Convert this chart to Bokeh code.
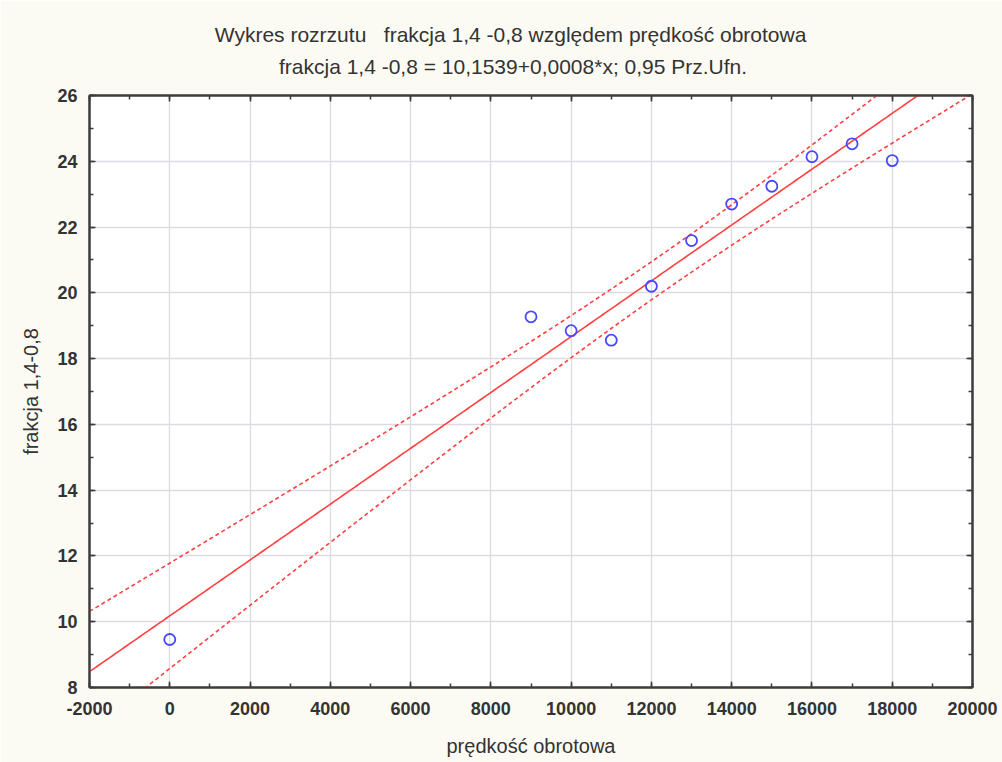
import numpy as np
from bokeh.plotting import figure
from bokeh.models import LinearAxis, SingleIntervalTicker, Title, Grid, CustomJSTickFormatter
from bokeh.embed import file_html
from bokeh.resources import INLINE

# data
speed = [0, 9000, 10000, 11000, 12000, 13000, 14000, 15000, 16000, 17000, 18000]
fraction = [9.46, 19.27, 18.85, 18.56, 20.20, 21.59, 22.70, 23.24, 24.14, 24.53, 24.02]
x_ticks = list(range(-2000, 20001, 2000))
x_tick_labels = [str(v) for v in x_ticks]
title1 = "Wykres rozrzutu\u00a0\u00a0\u00a0frakcja 1,4 -0,8 względem prędkość obrotowa"
title2 = "frakcja 1,4 -0,8 = 10,1539+0,0008*x; 0,95 Prz.Ufn."
x_label = "prędkość obrotowa"
y_label = "frakcja 1,4-0,8"
t_crit = 2.262  # Student t, 0.975, df=9

x = np.array(speed, dtype=float)
y = np.array(fraction, dtype=float)
n = len(x)
b, a = np.polyfit(x, y, 1)
res = y - (a + b * x)
s = np.sqrt(np.sum(res ** 2) / (n - 2))
sxx = np.sum((x - x.mean()) ** 2)
xs = np.linspace(-2000, 20000, 300)
ys = a + b * xs
half = t_crit * s * np.sqrt(1.0 / n + (xs - x.mean()) ** 2 / sxx)

FONT = "Liberation Sans"
TXT = "#333333"

p = figure(width=1002, height=762, x_range=(-2000, 20000), y_range=(8, 26),
           output_backend="svg", toolbar_location=None,
           min_border_left=89, min_border_right=30, min_border_top=95, min_border_bottom=75,
           border_fill_color="#fcfbf3", background_fill_color="white",
           outline_line_color="#3c3c3c", outline_line_width=2)
p.xaxis.visible = False
p.yaxis.visible = False

blank = CustomJSTickFormatter(code="return ''")

def style(ax, labels=True):
    ax.axis_line_color = "#3c3c3c"
    ax.axis_line_width = 2
    ax.major_tick_in = 6
    ax.major_tick_out = 0
    ax.minor_tick_in = 4
    ax.minor_tick_out = 0
    ax.major_tick_line_color = "#3c3c3c"
    ax.minor_tick_line_color = "#3c3c3c"
    ax.major_tick_line_width = 1.5
    ax.minor_tick_line_width = 1.5
    ax.major_label_text_font = FONT
    ax.major_label_text_font_style = "bold"
    ax.major_label_text_color = TXT
    ax.major_label_text_font_size = "18px"
    ax.axis_label_text_font = FONT
    ax.axis_label_text_font_style = "normal"
    ax.axis_label_text_color = TXT
    ax.axis_label_text_font_size = "20px"
    if not labels:
        ax.formatter = blank
        ax.major_label_standoff = 0

xt = SingleIntervalTicker(interval=2000, num_minor_ticks=2)
yt = SingleIntervalTicker(interval=2, num_minor_ticks=2)

xb = LinearAxis(ticker=xt, axis_label=x_label)
style(xb)
xb.major_label_overrides = dict(zip(x_ticks, x_tick_labels))
xb.major_label_standoff = 14
xb.axis_label_standoff = 17
p.add_layout(xb, "below")

yl = LinearAxis(ticker=yt, axis_label=y_label)
style(yl)
yl.major_label_standoff = 12
yl.axis_label_standoff = 12
p.add_layout(yl, "left")

yr = LinearAxis(ticker=yt)
style(yr, labels=False)
p.add_layout(yr, "right")

xa = LinearAxis(ticker=xt)
style(xa, labels=False)
p.add_layout(xa, "above")

p.xgrid.visible = False
p.ygrid.visible = False
p.add_layout(Grid(dimension=0, ticker=xt, grid_line_color="#dedae2", grid_line_width=1.3))
p.add_layout(Grid(dimension=1, ticker=yt, grid_line_color="#dedae2", grid_line_width=1.3))

NB = "\u00a0"
p.add_layout(Title(text=title1 + NB * 7 + "\n" + NB * 11 + title2, align="center",
                   text_font=FONT, text_font_size="21px", text_font_style="normal",
                   text_color=TXT, text_line_height=1.43, standoff=34), "above")

red = "#ff4040"
p.line(xs, ys, line_color=red, line_width=1.6)
p.line(xs, ys + half, line_color=red, line_width=1.6, line_dash="4 3")
p.line(xs, ys - half, line_color=red, line_width=1.6, line_dash="4 3")
p.scatter(speed, fraction, marker="circle", size=11, fill_color=None,
          line_color="#4848ff", line_width=1.8)

open("out.html", "w").write(file_html(p, INLINE))
